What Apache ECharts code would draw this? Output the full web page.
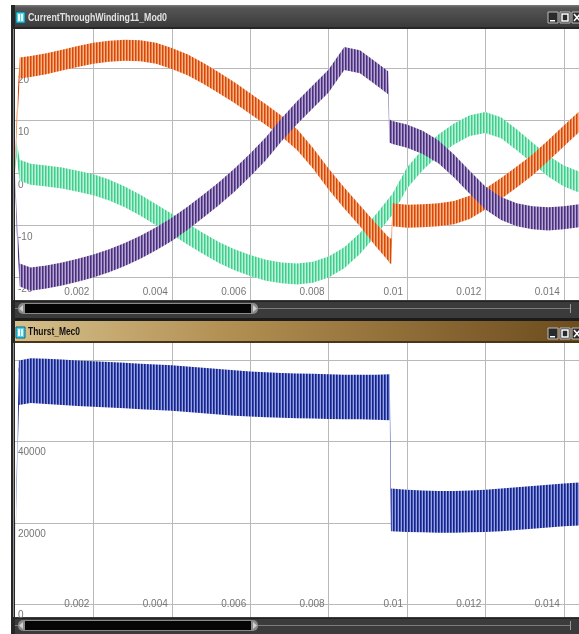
<!DOCTYPE html>
<html>
<head>
<meta charset="utf-8">
<script src="https://cdn.jsdelivr.net/npm/echarts@6/dist/echarts.min.js"></script>
<style>
html, body { margin: 0; padding: 0; background: #ffffff; }
#chart { width: 579px; height: 634px; }
</style>
</head>
<body>
<div id="chart"></div>
<script>
// ---- Window titles ----
const titleTop = 'CurrentThroughWinding11_Mod0';
const titleBottom = 'Thurst_Mec0';

// ---- Tick values ----
const timeTicks = [0.002, 0.004, 0.006, 0.008, 0.01, 0.012, 0.014];
const currentTicks = [-20, -10, 0, 10, 20];
const thrustTicks = [0, 20000, 40000, 60000];

// ---- Winding currents (A): time and ripple envelope (low / high) ----
const tCurrent = [0, 0.00004, 0.00012, 0.0004, 0.0008, 0.0012, 0.0016, 0.002, 0.0024, 0.0028,
  0.0032, 0.0036, 0.004, 0.0044, 0.0048, 0.0052, 0.0056, 0.006, 0.0064, 0.0068,
  0.0072, 0.0076, 0.008, 0.0084, 0.0088, 0.0092, 0.00952, 0.00955, 0.0096, 0.00963,
  0.01, 0.0104, 0.0108, 0.0112, 0.0116, 0.012, 0.0124, 0.0128, 0.0132, 0.0136, 0.014, 0.0144];

const phaseALow  = [0, 7, 18, 18.3, 18.8, 19.5, 20.2, 20.8, 21.2, 21.4,
  21.3, 20.8, 19.8, 18.6, 17, 15.2, 13.3, 11.2, 9.1, 6.9,
  4.3, 0.8, -3.2, -6.8, -10.2, -14, -16.8, -17.2, -17.4, -10.2,
  -10.5, -10.4, -10.2, -9.8, -8.8, -7, -5, -2.8, -0.5, 2.2, 5, 7.8];
const phaseAHigh = [0, 11, 22, 22.3, 22.8, 23.5, 24.2, 24.8, 25.2, 25.4,
  25.3, 24.8, 23.8, 22.6, 21, 19.2, 17.3, 15.2, 13.1, 10.9,
  8.3, 4.8, 0.8, -2.8, -6.2, -9.6, -12.2, -12.4, -12.6, -5.8,
  -6.1, -6, -5.8, -5.4, -4.4, -3, -1, 1.2, 3.5, 6.2, 9, 11.8];

const phaseBLow  = [0, -11, -21.7, -22.5, -22.1, -21.5, -20.8, -20, -19, -17.8,
  -16.4, -14.8, -13, -10.9, -8.6, -6.2, -3.6, -0.7, 2.4, 6,
  9.3, 12.3, 15.3, 19.6, 19, 16.8, 15, 5.8, 5.6, 5.5,
  4.8, 3.6, 1.8, -0.9, -4, -7, -9, -10.2, -10.8, -11, -10.8, -10.4];
const phaseBHigh = [0, -7, -17.3, -18.1, -17.7, -17.1, -16.4, -15.6, -14.6, -13.4,
  -12, -10.4, -8.6, -6.5, -4.2, -1.8, 0.8, 3.7, 6.8, 10.4,
  13.7, 16.7, 19.7, 24, 23.4, 21.2, 19.4, 10.2, 10, 9.9,
  9.2, 8, 6.2, 3.5, 0.4, -2.6, -4.6, -5.8, -6.4, -6.6, -6.4, -6];

const phaseCLow  = [0, 3, -1.5, -2.3, -2.6, -3, -3.6, -4.3, -5.3, -6.6,
  -8.2, -10, -11.8, -13.7, -15.5, -17.2, -18.6, -19.7, -20.6, -21.1,
  -21.3, -21, -20, -18.2, -15.5, -12, -9, -8.7, -8.3, -8,
  -3, 0.5, 3.3, 5.4, 7, 7.6, 6.6, 4.3, 1.8, -0.7, -2.6, -3.8];
const phaseCHigh = [0, 6, 2.5, 1.7, 1.4, 1, 0.4, -0.3, -1.3, -2.6,
  -4.2, -6, -7.8, -9.7, -11.5, -13.2, -14.6, -15.7, -16.6, -17.1,
  -17.3, -17, -16, -14.2, -11.5, -8, -5, -4.7, -4.3, -4,
  1, 4.5, 7.3, 9.4, 11, 11.6, 10.6, 8.3, 5.8, 3.3, 1.4, 0.2];

// ---- Thrust (N): time and ripple envelope (low / high) ----
const tThrust = [0, 0.00003, 0.0001, 0.0004, 0.0008, 0.0012, 0.0016, 0.002, 0.0024, 0.0028,
  0.0032, 0.0036, 0.004, 0.0044, 0.0048, 0.0052, 0.0056, 0.006, 0.0064, 0.0068,
  0.0072, 0.0076, 0.008, 0.0084, 0.0088, 0.0092, 0.00956, 0.00959, 0.01, 0.0104,
  0.0108, 0.0112, 0.0116, 0.012, 0.0124, 0.0128, 0.0132, 0.0136, 0.014, 0.0144];
const thrustLow  = [0, 23000, 49000, 49500, 49300, 49000, 48800, 48600, 48400, 48200,
  48000, 47800, 47600, 47300, 47000, 46700, 46400, 46200, 46000, 45900,
  45800, 45700, 45600, 45500, 45500, 45400, 45300, 18000, 17800, 17700,
  17600, 17600, 17700, 17800, 18000, 18300, 18600, 18900, 19200, 19400];
const thrustHigh = [0, 26000, 60000, 60500, 60400, 60200, 60000, 59800, 59600, 59400,
  59200, 59000, 58800, 58500, 58200, 57900, 57600, 57300, 57100, 56900,
  56800, 56700, 56600, 56500, 56500, 56500, 56600, 28500, 28200, 28000,
  27900, 27900, 28000, 28200, 28500, 28800, 29100, 29400, 29700, 30000];

// ---- Styling helpers ----
const LABEL_FONT = '"Liberation Sans", Arial, sans-serif';

// Vertical-stripe fill that reproduces the dense switching ripple of a trace
function ripplePattern(cols) {
  const c = document.createElement('canvas');
  c.width = cols.length;
  c.height = 4;
  const g = c.getContext('2d');
  cols.forEach((col, i) => { g.fillStyle = col; g.fillRect(i, 0, 1, 4); });
  return { image: c, repeat: 'repeat' };
}

// A trace drawn as the filled envelope between its low and high values
function rippleBand(name, t, lo, hi, fill, gi) {
  return {
    type: 'custom',
    name: name,
    xAxisIndex: gi,
    yAxisIndex: gi,
    data: t.map((x, i) => [x, lo[i], hi[i]]),
    encode: { x: 0, y: [1, 2] },
    silent: true,
    animation: false,
    renderItem: function (params, api) {
      if (params.dataIndex !== 0) return null;
      const upper = t.map((x, i) => api.coord([x, hi[i]]));
      const lower = t.map((x, i) => api.coord([x, lo[i]])).reverse();
      const cs = params.coordSys;
      return {
        type: 'polygon',
        shape: { points: upper.concat(lower) },
        style: { fill: fill, stroke: null },
        clipPath: { type: 'rect', shape: { x: cs.x, y: cs.y, width: cs.width, height: cs.height } }
      };
    }
  };
}

function timeAxis(gi, margin) {
  return {
    type: 'value', gridIndex: gi, min: 0, max: 0.014388,
    axisLine: { show: false },
    axisTick: { show: false, customValues: timeTicks },
    splitLine: { show: true, lineStyle: { color: '#b9b9b9', width: 1 } },
    axisLabel: {
      customValues: timeTicks, inside: true, margin: margin, align: 'right',
      padding: [0, 4, 0, 0], color: '#767676', fontSize: 10, fontFamily: LABEL_FONT
    }
  };
}

function valueAxis(gi, min, max, ticks, padTop) {
  return {
    type: 'value', gridIndex: gi, min: min, max: max,
    axisLine: { show: false },
    axisTick: { show: false, customValues: ticks },
    splitLine: { show: true, lineStyle: { color: '#b9b9b9', width: 1 } },
    axisLabel: {
      customValues: ticks, inside: true, margin: 3, align: 'left', verticalAlign: 'top',
      padding: [padTop, 0, 0, 0], color: '#767676', fontSize: 10, fontFamily: LABEL_FONT,
      formatter: v => String(v)
    }
  };
}

// Condensed title text: squeeze the caption to the width of the title-bar font
function titleText(text, x, y, color, width) {
  const font = 'bold 11px ' + LABEL_FONT;
  const m = document.createElement('canvas').getContext('2d');
  m.font = font;
  const sx = width / m.measureText(text).width;
  return { type: 'text', x: x, y: y, scaleX: sx, originX: 0,
    style: { x: 0, y: 0, text: text, fill: color, font: font, verticalAlign: 'middle' } };
}

// ---- Window chrome ----
function windowIcon(x, y) {
  return [
    { type: 'rect', shape: { x: x, y: y, width: 9, height: 11 }, style: { fill: '#3fd9f2', stroke: '#16607a', lineWidth: 1 } },
    { type: 'rect', shape: { x: x + 2, y: y + 2, width: 2, height: 7 }, style: { fill: '#ffffff' } },
    { type: 'rect', shape: { x: x + 5, y: y + 2, width: 2, height: 7 }, style: { fill: '#ffffff' } }
  ];
}

function windowButtons(y) {
  return [
    { type: 'rect', shape: { x: 548, y: y, width: 10, height: 11 }, style: { fill: '#2a2a2a', stroke: '#bdbdbd', lineWidth: 1 } },
    { type: 'rect', shape: { x: 550, y: y + 8, width: 5, height: 1.5 }, style: { fill: '#ffffff' } },
    { type: 'rect', shape: { x: 560, y: y, width: 10, height: 11 }, style: { fill: '#2a2a2a', stroke: '#bdbdbd', lineWidth: 1 } },
    { type: 'rect', shape: { x: 562, y: y + 2, width: 6, height: 7 }, style: { fill: 'none', stroke: '#ffffff', lineWidth: 1.5 } },
    { type: 'rect', shape: { x: 572, y: y, width: 10, height: 11 }, style: { fill: '#2a2a2a', stroke: '#bdbdbd', lineWidth: 1 } },
    { type: 'polyline', shape: { points: [[574, y + 2], [580, y + 9]] }, style: { stroke: '#ffffff', lineWidth: 1.5 } },
    { type: 'polyline', shape: { points: [[580, y + 2], [574, y + 9]] }, style: { stroke: '#ffffff', lineWidth: 1.5 } }
  ];
}

function scrollBar(y) {
  return [
    { type: 'rect', shape: { x: 11, y: y, width: 568, height: 18 }, style: { fill: '#3b3b3b' } },
    { type: 'rect', shape: { x: 11, y: y + 1, width: 568, height: 1 }, style: { fill: '#222222' } },
    { type: 'rect', shape: { x: 11, y: y + 8, width: 560, height: 1 }, style: { fill: '#7c7c7c' } },
    { type: 'rect', shape: { x: 570, y: y + 4, width: 1, height: 9 }, style: { fill: '#9a9a9a' } },
    { type: 'rect', shape: { x: 18, y: y + 3, width: 240, height: 11, r: 5 }, style: { fill: '#8a8a8a' } },
    { type: 'rect', shape: { x: 25, y: y + 4, width: 226, height: 9 }, style: { fill: '#050505' } },
    { type: 'polygon', shape: { points: [[19, y + 8.5], [23, y + 5], [23, y + 12]] }, style: { fill: '#d0d0d0' } },
    { type: 'polygon', shape: { points: [[257, y + 8.5], [253, y + 5], [253, y + 12]] }, style: { fill: '#d0d0d0' } }
  ];
}

const chrome = [].concat(
  // upper window frame and title bar
  [
    { type: 'rect', shape: { x: 11, y: 5, width: 568, height: 24 },
      style: { fill: { type: 'linear', x: 0, y: 0, x2: 0, y2: 1, colorStops: [
        { offset: 0, color: '#7a7a7a' }, { offset: 0.12, color: '#555555' }, { offset: 1, color: '#383838' }] } } },
    { type: 'rect', shape: { x: 11, y: 27, width: 568, height: 2 }, style: { fill: '#262626' } },
    titleText(titleTop, 28, 18, '#e2e2e2', 139)
  ],
  windowIcon(16, 12),
  windowButtons(12),
  scrollBar(300),
  // lower window frame and title bar
  [
    { type: 'rect', shape: { x: 11, y: 318, width: 568, height: 3 }, style: { fill: '#1c1c1c' } },
    { type: 'rect', shape: { x: 11, y: 321, width: 568, height: 22 },
      style: { fill: { type: 'linear', x: 0, y: 0, x2: 1, y2: 0, colorStops: [
        { offset: 0, color: '#d6c08c' }, { offset: 0.4, color: '#b08d50' }, { offset: 1, color: '#6d4c1e' }] } } },
    { type: 'rect', shape: { x: 11, y: 341, width: 568, height: 2 }, style: { fill: '#4a3516' } },
    titleText(titleBottom, 28, 332, '#101010', 52)
  ],
  windowIcon(16, 327),
  windowButtons(328),
  scrollBar(617),
  // left frame edge
  [
    { type: 'rect', shape: { x: 11, y: 5, width: 4, height: 629 }, style: { fill: '#262626' } },
    { type: 'rect', shape: { x: 13, y: 29, width: 1, height: 271 }, style: { fill: '#8c8c8c' } },
    { type: 'rect', shape: { x: 13, y: 343, width: 1, height: 274 }, style: { fill: '#8c8c8c' } }
  ]
);

const chart = echarts.init(document.getElementById('chart'), null, { renderer: 'canvas' });

chart.setOption({
  animation: false,
  backgroundColor: '#ffffff',
  grid: [
    { left: 15, top: 29, width: 564, height: 271 },
    { left: 15, top: 343, width: 564, height: 274 }
  ],
  xAxis: [timeAxis(0, 3), timeAxis(1, 8)],
  yAxis: [
    valueAxis(0, -24.28, 27.44, currentTicks, 7),
    valueAxis(1, -3120, 64280, thrustTicks, 6)
  ],
  graphic: { elements: chrome },
  series: [
    rippleBand('Phase C', tCurrent, phaseCLow, phaseCHigh, ripplePattern(['#3ccf8c', '#7fe0b4', '#bff0d9']), 0),
    rippleBand('Phase A', tCurrent, phaseALow, phaseAHigh, ripplePattern(['#d6470c', '#ec7a3a', '#f6b48d']), 0),
    rippleBand('Phase B', tCurrent, phaseBLow, phaseBHigh, ripplePattern(['#4a2e79', '#7962a5', '#b7a8d4']), 0),
    rippleBand('Thrust', tThrust, thrustLow, thrustHigh, ripplePattern(['#16238a', '#3f50b2', '#98a4dd']), 1)
  ]
});
</script>
</body>
</html>
